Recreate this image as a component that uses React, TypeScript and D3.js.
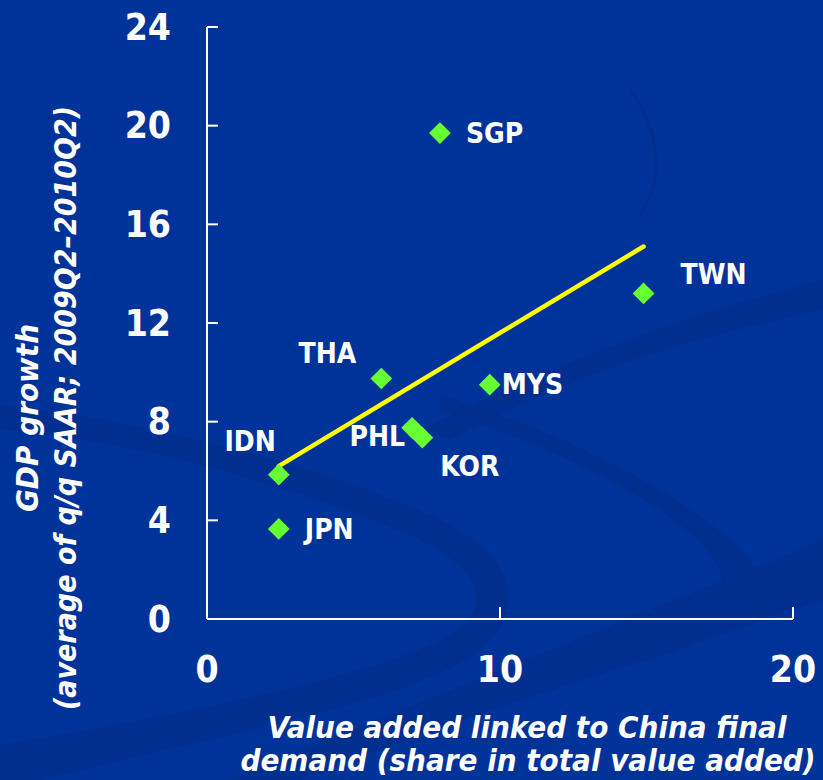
import React from "react";
import * as d3 from "d3";

const countries = ["SGP", "TWN", "THA", "MYS", "PHL", "KOR", "IDN", "JPN"];
const valueAdded = [7.95, 14.9, 5.95, 9.65, 7.0, 7.35, 2.45, 2.45];
const gdpGrowth = [19.7, 13.2, 9.75, 9.5, 7.75, 7.35, 5.85, 3.65];
const trendX = [2.45, 14.9];
const trendY = [6.2, 15.1];
const yTicks = [0, 4, 8, 12, 16, 20, 24];
const xTicks = [0, 10, 20];
const yTitle = ["GDP growth", "(average of q/q SAAR; 2009Q2\u20132010Q2)"];
const xTitle = ["Value added linked to China final", "demand (share in total value added)"];

// label placement (anchor, dx, dy) relative to each marker
const labelAnchor = ["start", "start", "end", "start", "end", "start", "end", "start"];
const labelDx = [26, 37, -25, 12, -7, 18, -3, 26];
const labelDy = [0, -19, -25, 0, 9, 29, -33, 1];

const W = 823;
const H = 780;
const FONT = "'DejaVu Sans Condensed', 'DejaVu Sans', sans-serif";
const BG = "#003399";
const DARK = "#002b86";

export default function App() {
  const x = d3.scaleLinear().domain([0, 20]).range([207, 793]);
  const y = d3.scaleLinear().domain([0, 24]).range([619, 27]);
  const diamond = d3.symbol().type(d3.symbolDiamond2).size(300)();
  const trend = d3
    .line<number>()
    .x((d) => x(d))
    .y((_, i) => y(trendY[i]));

  return (
    <svg
      width={W}
      height={H}
      style={{ position: "absolute", left: 0, top: 0, display: "block" }}
    >
      <rect x={0} y={0} width={W} height={H} fill={BG} />
      {/* decorative background swirls */}
      <g fill={DARK} opacity={0.45}>
        <path d="M0 430 C 150 440, 330 500, 420 540 C 480 570, 500 610, 440 640 C 360 680, 150 720, 0 745 L 0 780 L 40 780 C 200 740, 420 700, 480 650 C 540 600, 500 545, 430 515 C 330 470, 150 420, 0 405 Z" />
        <path d="M440 395 C 560 430, 700 500, 750 560 C 770 600, 720 640, 650 660 L 600 670 C 680 640, 730 605, 720 570 C 690 510, 560 450, 440 410 Z" />
        <path d="M300 780 C 450 720, 650 660, 823 600 L 823 540 C 650 610, 450 690, 230 780 Z" />
        <path d="M420 430 C 560 360, 700 310, 823 280 L 823 310 C 700 335, 580 370, 450 440 Z" />
      </g>
      <path
        d="M630 90 C 660 130, 665 180, 640 215"
        fill="none"
        stroke={DARK}
        strokeWidth={3}
        opacity={0.5}
      />

      {/* axes */}
      <g stroke="#ffffff" strokeWidth={2} fill="none">
        <line x1={x(0)} x2={x(0)} y1={y(24)} y2={y(0)} />
        <line x1={x(0)} x2={x(20)} y1={y(0)} y2={y(0)} />
        {yTicks.map((t) => (
          <line key={"yt" + t} x1={x(0)} x2={x(0) + 11} y1={y(t)} y2={y(t)} />
        ))}
        {xTicks.slice(1).map((t) => (
          <line key={"xt" + t} x1={x(t)} x2={x(t)} y1={y(0)} y2={y(0) - 12} />
        ))}
      </g>

      <g fill="#ffffff" fontFamily={FONT} fontWeight="bold" fontSize={37}>
        {yTicks.map((t) => (
          <text key={"yl" + t} x={171} y={y(t)} textAnchor="end" dominantBaseline="central">
            {t}
          </text>
        ))}
        {xTicks.map((t) => (
          <text key={"xl" + t} x={x(t)} y={669} textAnchor="middle" dominantBaseline="central">
            {t}
          </text>
        ))}
      </g>

      {/* trend line */}
      <path
        d={trend(trendX) || ""}
        stroke="#ffff00"
        strokeWidth={4.5}
        strokeLinecap="round"
        fill="none"
      />

      {/* markers */}
      {countries.map((c, i) => (
        <path
          key={"m" + c}
          d={diamond}
          transform={`translate(${x(valueAdded[i])},${y(gdpGrowth[i])})`}
          fill="#66ff33"
        />
      ))}
      <g fill="#ffffff" fontFamily={FONT} fontWeight="bold" fontSize={28}>
        {countries.map((c, i) => (
          <text
            key={"l" + c}
            x={x(valueAdded[i]) + labelDx[i]}
            y={y(gdpGrowth[i]) + labelDy[i]}
            textAnchor={labelAnchor[i] as any}
            dominantBaseline="central"
          >
            {c}
          </text>
        ))}
      </g>

      {/* axis titles */}
      <g fill="#ffffff" fontFamily={FONT} fontWeight="bold" fontStyle="italic" fontSize={31}>
        <text transform="translate(38,418) rotate(-90)" textAnchor="middle">
          {yTitle[0]}
        </text>
        <text transform="translate(76,408) rotate(-90)" textAnchor="middle" fontSize={30}>
          {yTitle[1]}
        </text>
        <text x={527} y={738} textAnchor="middle">
          {xTitle[0]}
        </text>
        <text x={528} y={771} textAnchor="middle">
          {xTitle[1]}
        </text>
      </g>
    </svg>
  );
}
